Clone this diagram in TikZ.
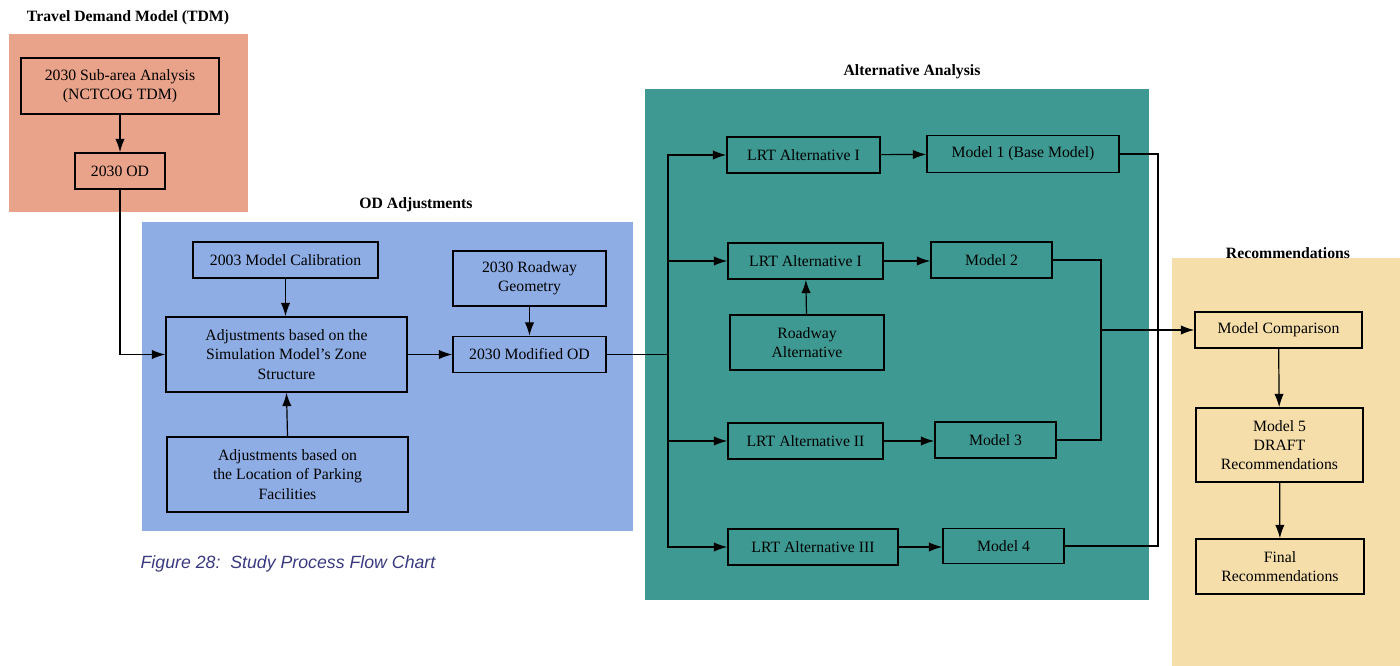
\documentclass[tikz,border=0pt]{standalone}
\usepackage{fontspec}
\setmainfont{Liberation Serif}
\newfontfamily\captionfont{Liberation Sans}
\usepackage{tikz}
\usetikzlibrary{arrows.meta}
\definecolor{tdmred}{RGB}{233,163,138}
\definecolor{odblue}{RGB}{142,173,228}
\definecolor{altteal}{RGB}{62,153,147}
\definecolor{rectan}{RGB}{245,222,170}
\definecolor{capblue}{RGB}{58,58,128}

\begin{document}
\begin{tikzpicture}[x=0.75pt,y=0.75pt,yscale=-1,xscale=1,
	box/.style={draw, line width=1.2pt, align=center, inner sep=0pt, font=\fontsize{11.8}{14.5}\selectfont},
	paneltitle/.style={font=\fontsize{11.8}{14.5}\selectfont\bfseries},
	flow/.style={line width=0.9pt, -{Latex[length=10pt,width=7pt]}},
	wire/.style={line width=0.9pt}]
	%set diagram left start at 0, and has height of 666
	\useasboundingbox (0,0) rectangle (1400,666);
	
	%Shape: Rectangle [TDM panel]
	\fill [tdmred] (9,34) rectangle (248,212);
	%Shape: Rectangle [OD panel]
	\fill [odblue] (142,222) rectangle (633,531);
	%Shape: Rectangle [Alternative panel]
	\fill [altteal] (645,89) rectangle (1149,600);
	%Shape: Rectangle [Recommendations panel]
	\fill [rectan] (1172,258) rectangle (1400,666);
	
	% Text Node
	\node [paneltitle] (tdmtitle) at (128,18) {Travel Demand Model (TDM)};
	% Text Node
	\node [paneltitle] (odtitle) at (416,205) {OD Adjustments};
	% Text Node
	\node [paneltitle] (alttitle) at (912,72) {Alternative Analysis};
	% Text Node
	\node [paneltitle] (rectitle) at (1288,253) {Recommendations};
	% Text Node
	\node [font=\captionfont\itshape\fontsize{13.3}{16}\selectfont, text=capblue] (caption) at (288,564) {Figure 28:\ \ Study Process Flow Chart};
	
	% Travel Demand Model
	\node [box, minimum width=148.5pt, minimum height=42pt] (sub) at (120,86) {2030 Sub-area Analysis\\(NCTCOG TDM)};
	\node [box, minimum width=67.5pt, minimum height=27pt] (od) at (120,171) {2030 OD};
	
	% OD Adjustments
	\node [box, minimum width=138.75pt, minimum height=27pt] (calib) at (285.5,260) {2003 Model Calibration};
	\node [box, minimum width=180.75pt, minimum height=56.25pt] (zone) at (286.5,354.5) {Adjustments based on the\\Simulation Model's Zone\\Structure};
	\node [box, minimum width=180.75pt, minimum height=56.25pt] (park) at (287.5,474.5) {Adjustments based on\\the Location of Parking\\Facilities};
	\node [box, minimum width=114.75pt, minimum height=41.25pt] (geom) at (529.5,278.5) {2030 Roadway\\Geometry};
	\node [box, minimum width=114.75pt, minimum height=27pt] (modod) at (529.5,354.5) {2030 Modified OD};
	
	% Alternative Analysis
	\node [box, minimum width=114.75pt, minimum height=27pt] (lrta) at (803.5,155) {LRT Alternative I};
	\node [box, minimum width=144pt, minimum height=27.75pt] (mone) at (1023,154) {Model 1 (Base Model)};
	\node [box, minimum width=116.25pt, minimum height=27pt] (lrtb) at (805.5,261) {LRT Alternative I};
	\node [box, minimum width=90.75pt, minimum height=27pt] (mtwo) at (991.5,260) {Model 2};
	\node [box, minimum width=115.5pt, minimum height=41.25pt] (road) at (807,342.5) {Roadway\\Alternative};
	\node [box, minimum width=116.25pt, minimum height=27pt] (lrtc) at (805.5,441) {LRT Alternative II};
	\node [box, minimum width=90.75pt, minimum height=27pt] (mthree) at (995.5,440) {Model 3};
	\node [box, minimum width=127.5pt, minimum height=27pt] (lrtd) at (813,547) {LRT Alternative III};
	\node [box, minimum width=90.75pt, minimum height=26.25pt] (mfour) at (1003.5,546) {Model 4};
	
	% Recommendations
	\node [box, minimum width=125.25pt, minimum height=27pt] (comp) at (1278.5,330) {Model Comparison};
	\node [box, minimum width=125.25pt, minimum height=55.5pt] (draft) at (1279.5,445) {Model 5\\DRAFT\\Recommendations};
	\node [box, minimum width=126pt, minimum height=41.25pt] (final) at (1280,566.5) {Final\\Recommendations};
	
	%Straight Lines [junctions]
	\coordinate (bus) at (668,354.5);
	\coordinate (mid) at (1101,330);
	\coordinate (outer) at (1158,330);
	
	%Straight Lines
	\draw [flow] (sub) -- (od);
	\draw [flow] (od.south) |- (zone.west);
	\draw [flow] (calib.south) -- (calib.south |- zone.north);
	\draw [flow] (park.north) -- (zone.south);
	\draw [flow] (zone) -- (modod);
	\draw [flow] (geom) -- (modod);
	\draw [wire] (modod) -- (bus);
	\draw [flow] (bus) |- (lrta.west);
	\draw [flow] (bus) |- (lrtb.west);
	\draw [flow] (bus) |- (lrtc.west);
	\draw [flow] (bus) |- (lrtd.west);
	\draw [flow] (lrta) -- (mone);
	\draw [flow] (lrtb) -- (lrtb -| mtwo.west);
	\draw [flow] (road) -- (lrtb);
	\draw [flow] (lrtc) -- (lrtc -| mthree.west);
	\draw [flow] (lrtd) -- (lrtd -| mfour.west);
	\draw [wire] (mtwo.east) -| (mid);
	\draw [wire] (mthree.east) -| (mid);
	\draw [wire] (mone.east) -| (outer);
	\draw [wire] (mfour.east) -| (outer);
	\draw [flow] (mid) -- (comp.west);
	\draw [flow] (comp) -- (draft);
	\draw [flow] (draft) -- (final);
	
\end{tikzpicture}
\end{document}
